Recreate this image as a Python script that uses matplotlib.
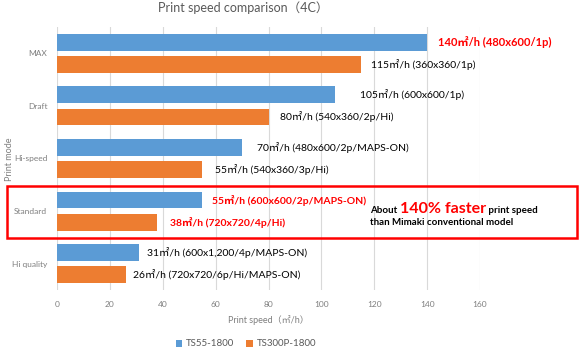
import matplotlib
matplotlib.use("Agg")
from matplotlib import pyplot as plt
from matplotlib.patches import Rectangle
import numpy as np

plt.rcParams['font.family'] = ['Lato', 'Noto Sans CJK JP', 'DejaVu Sans']

modes = ['MAX', 'Draft', 'Hi-speed', 'Standard', 'Hi quality']
ts55 = [140, 105, 70, 55, 31]
ts300 = [115, 80, 55, 38, 26]
ts55_notes = ['480x600/1p', '600x600/1p', '480x600/2p/MAPS-ON',
              '600x600/2p/MAPS-ON', '600x1,200/4p/MAPS-ON']
ts300_notes = ['360x360/1p', '540x360/2p/Hi', '540x360/3p/Hi',
               '720x720/4p/Hi', '720x720/6p/Hi/MAPS-ON']
series_names = ['TS55-1800', 'TS300P-1800']
xticks = [0, 20, 40, 60, 80, 100, 120, 140, 160]

# which labels are highlighted in red
red55 = [True, False, False, True, False]
red300 = [False, False, False, True, False]

blue = '#5B9BD5'
orange = '#ED7D31'
grey = '#595959'
light = '#7F7F7F'

W, H = 580, 352
fig = plt.figure(figsize=(W / 100, H / 100), dpi=100)
ax = fig.add_axes([57 / W, 1 - 290 / H, (480 - 57) / W, (290 - 27) / H])

y = np.arange(len(modes))
bh = 0.32
off = 0.21
b1 = ax.barh(y - off, ts55, height=bh, color=blue, label=series_names[0], zorder=3)
b2 = ax.barh(y + off, ts300, height=bh, color=orange, label=series_names[1], zorder=3)

ax.set_xlim(0, 160)
ax.set_ylim(len(modes) - 0.5, -0.5)
ax.set_xticks(xticks)
ax.set_yticks(y)
ax.set_yticklabels(modes)
ax.tick_params(axis='both', length=0, labelsize=6, labelcolor=light)
ax.tick_params(axis='x', pad=8)
ax.tick_params(axis='y', pad=7)
for s in ax.spines.values():
    s.set_visible(False)
ax.xaxis.grid(True, color='#D9D9D9', lw=0.8, zorder=0)
ax.set_axisbelow(True)

ax.set_xlabel('Print speed（㎡/h）', fontsize=6.5, color=light, labelpad=5)
fig.text(9 / W, 1 - 159 / H, 'Print mode', rotation=90, ha='center', va='center',
         fontsize=6.5, color=light)

def label(v, yy, note, red, dx):
    ax.annotate('%d㎡/h (%s)' % (v, note), xy=(v, yy), xytext=(dx, 0),
                textcoords='offset points', va='center', ha='left',
                fontsize=8 if red and v == 140 else 7.5,
                fontweight='bold' if red else 'normal',
                color='#FF0000' if red else 'black')

nudge55 = [8, 18, 11, 7, 6]
nudge300 = [7, 8, 9, 9, 5]
for i in range(len(modes)):
    label(ts55[i], y[i] - off, ts55_notes[i], red55[i], nudge55[i])
    label(ts300[i], y[i] + off, ts300_notes[i], red300[i], nudge300[i])

fig.text(243 / W, 1 - 8 / H, 'Print speed comparison（4C）', ha='center', va='center',
         fontsize=9, color=grey)

leg = fig.legend(handles=[b1, b2], loc='center', bbox_to_anchor=(246 / W, 1 - 344 / H),
                 ncol=2, frameon=False, fontsize=7, handlelength=0.7, handleheight=0.7,
                 handletextpad=0.4, columnspacing=1.2)
for t in leg.get_texts():
    t.set_color(grey)

# highlight box around Standard
box = Rectangle((7 / W, 1 - 238 / H), 570 / W, 52 / H, transform=fig.transFigure,
                fill=False, ec='#FF0000', lw=1.8, clip_on=False)
fig.add_artist(box)

fig.canvas.draw()
r = fig.canvas.get_renderer()
base1 = 1 - 213 / H
t1 = fig.text(370 / W, base1, 'About ', fontsize=7, fontweight='bold', va='baseline')
x = t1.get_window_extent(r).x1 / W
t2 = fig.text(x, base1, '140% faster', fontsize=11.5, fontweight='bold', color='#FF0000',
              va='baseline')
x = t2.get_window_extent(r).x1 / W
fig.text(x, base1, ' print speed', fontsize=7, fontweight='bold', va='baseline')
fig.text(370 / W, 1 - 225 / H, 'than Mimaki conventional model', fontsize=7,
         fontweight='bold', va='baseline')

plt.savefig('out.png', dpi=100)
plt.close()
